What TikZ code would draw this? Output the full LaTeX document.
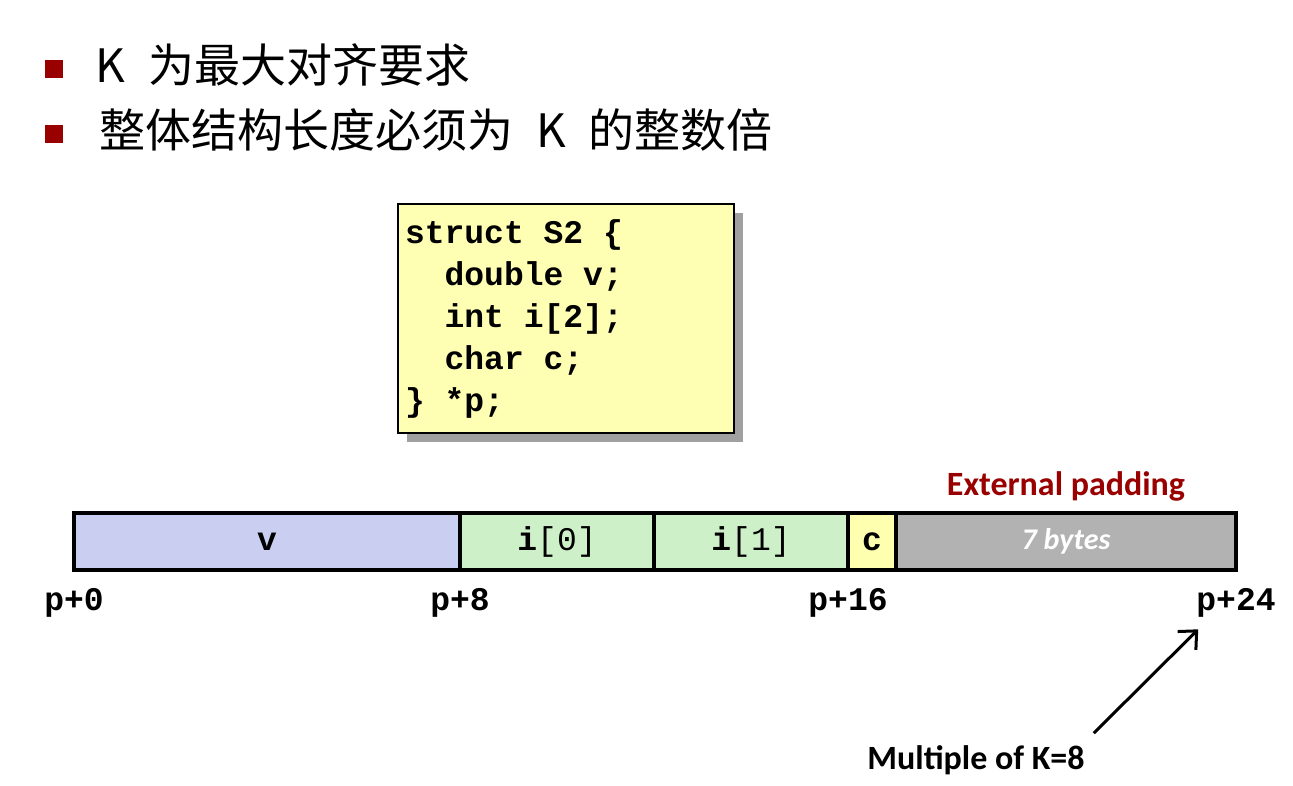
\documentclass[tikz,border=0pt]{standalone}
\usepackage{fontspec}
\setmainfont{Carlito}
\setmonofont{Liberation Mono}
\newfontfamily\cjk{Noto Sans CJK SC}
\usetikzlibrary{positioning, shadows, arrows.meta}

\definecolor{darkred}{RGB}{153,0,0}
\definecolor{codebg}{RGB}{255,255,180}
\definecolor{shadowgray}{RGB}{160,160,160}
\definecolor{vcol}{RGB}{202,206,240}
\definecolor{icol}{RGB}{206,240,200}
\definecolor{ccol}{RGB}{255,255,176}
\definecolor{padcol}{RGB}{178,178,178}

\newcommand{\tsp}{\hphantom{x}}

\begin{document}
\begin{tikzpicture}[
    x=1pt, y=-1pt,
    bullet/.style={rectangle, fill=darkred, minimum width=18pt, minimum height=18pt, inner sep=0pt},
    point/.style={anchor=west, inner sep=0pt, font=\cjk\fontsize{46}{52}\selectfont},
    codebox/.style={rectangle, draw=black, line width=2pt, fill=codebg, text width=322pt, minimum height=229pt, inner xsep=7pt, align=left, font=\ttfamily\bfseries\fontsize{33}{42}\selectfont, drop shadow={shadow xshift=9pt, shadow yshift=-9pt, fill=shadowgray, opacity=1}},
    cell/.style={rectangle, draw=black, line width=3.5pt, minimum height=57pt, inner sep=0pt, outer sep=0pt, font=\ttfamily\fontsize{33}{40}\selectfont},
    offs/.style={inner sep=0pt, font=\ttfamily\bfseries\fontsize{33}{40}\selectfont},
    note/.style={inner sep=0pt, font=\bfseries\fontsize{34}{40}\selectfont},
    arrow/.style={-{Straight Barb[length=14pt, width=26pt]}, line width=3pt}
]
\useasboundingbox (0,0) rectangle (1293,786);

% bullet points
\node[bullet] (b1) at (54,69) {};
\node[bullet] (b2) at (54,134) {};
\node[point, right=32pt of b1, yshift=4pt] (t1) {K\tsp 为最大对齐要求};
\node[point, right=36pt of b2, yshift=4pt] (t2) {整体结构长度必须为\tsp K\tsp 的整数倍};

% struct declaration
\node[codebox, anchor=north west] (code) at (397,203) {struct\tsp S2\tsp\{\\
\tsp\tsp double\tsp v;\\
\tsp\tsp int\tsp i[2];\\
\tsp\tsp char\tsp c;\\
\}\tsp *p;};

% memory layout
\node[cell, fill=vcol, minimum width=386pt] (v) at (267,541.5) {\textbf{v}};
\node[cell, fill=icol, minimum width=194pt, right=0pt of v] (i0) {\textbf{i}[0]};
\node[cell, fill=icol, minimum width=194pt, right=0pt of i0] (i1) {\textbf{i}[1]};
\node[cell, fill=ccol, minimum width=48pt, right=0pt of i1] (c) {\textbf{c}};
\node[cell, fill=padcol, minimum width=340pt, right=0pt of c, font=\bfseries\itshape\fontsize{30}{36}\selectfont, text=white] (pad) {7 bytes};

\node[note, text=darkred, above=12pt of pad] (ext) {External padding};

% offsets
\node[offs, below=18pt of v.south west] (p0) {p+0};
\node[offs, below=18pt of v.south east] (p8) {p+8};
\node[offs, below=18pt of i1.south east] (p16) {p+16};
\node[offs, below=18pt of pad.south east] (p24) {p+24};

\node[note] (mult) at (976,760) {Multiple of K=8};
\draw[arrow] ([xshift=9pt, yshift=12pt]mult.north east) -- ([xshift=2pt, yshift=-12pt]p24.south west);
\end{tikzpicture}
\end{document}
